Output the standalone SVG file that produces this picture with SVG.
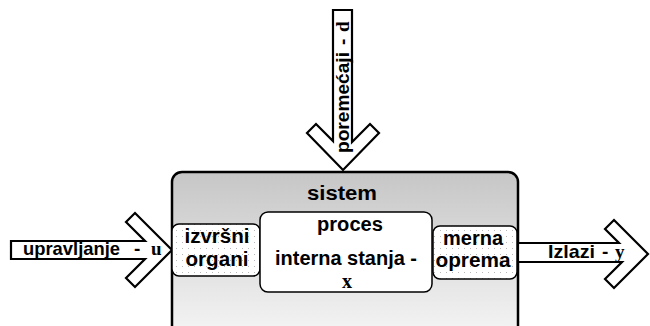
<svg xmlns="http://www.w3.org/2000/svg" width="650" height="326" viewBox="0 0 650 326">
<defs>
<linearGradient id="gSys" x1="0" y1="172" x2="0" y2="326" gradientUnits="userSpaceOnUse">
<stop offset="0" stop-color="#c6c6c6"/>
<stop offset="1" stop-color="#f2f2f2"/>
</linearGradient>
<pattern id="dots" x="0" y="0" width="6" height="6" patternUnits="userSpaceOnUse">
<rect width="6" height="6" fill="#ffffff"/>
<rect x="2" y="2" width="1" height="1" fill="#b8b8b8"/>
</pattern>
</defs>
<style>
.sans{font-family:"Liberation Sans",Arial,sans-serif;font-weight:bold;fill:#000}
.serif{font-family:"Liberation Serif","Times New Roman",serif;font-weight:bold;fill:#000}
.arrow{fill:#fff;stroke:#000;stroke-width:2.2;stroke-linejoin:miter}
.inner{stroke:#000;stroke-width:1.5}
</style>

<g id="node-sistem">
<rect x="172" y="172" width="346" height="170" rx="10" ry="10" fill="url(#gSys)" stroke="#000" stroke-width="2.5"/>
<text class="sans" x="342" y="200" font-size="20" text-anchor="middle" textLength="70" lengthAdjust="spacingAndGlyphs">sistem</text>
</g>

<g id="connectors">
<g id="arrow-upravljanje">
<polygon class="arrow" points="11,241 145,241 126,222 135,213 172,250 135,287 126,278 145,259 11,259"/>
<text class="sans" x="23" y="255" font-size="19" textLength="97" lengthAdjust="spacingAndGlyphs">upravljanje</text>
<text class="sans" x="134" y="255" font-size="19">-</text>
<text class="serif" x="151" y="255" font-size="19">u</text>
</g>
<g id="arrow-izlazi">
<polygon class="arrow" points="518,243 619,243 605,229 614,220 648,254 614,288 605,279 622,262 518,262"/>
<text class="sans" x="548" y="258" font-size="19" textLength="47" lengthAdjust="spacingAndGlyphs">Izlazi</text>
<text class="sans" x="602" y="258" font-size="19">-</text>
<text class="serif" x="615" y="258" font-size="19">y</text>
</g>
<g id="arrow-poremecaji">
<polygon class="arrow" points="333,10 352,10 352,142 370,124 379,133 343,170 307,133 316,124 333,141"/>
<g transform="translate(349,153) rotate(-90)">
<text class="sans" x="0" y="0" font-size="19" textLength="101" lengthAdjust="spacingAndGlyphs">poremećaji</text>
<text class="sans" x="108" y="0" font-size="19">-</text>
<text class="serif" x="121" y="0" font-size="19">d</text>
</g>
</g>
</g>

<g id="node-izvrsni">
<rect class="inner" x="172" y="224" width="88" height="52" rx="7" ry="7" fill="url(#dots)"/>
<text class="sans" x="217" y="243" font-size="20" text-anchor="middle" textLength="65" lengthAdjust="spacingAndGlyphs">izvršni</text>
<text class="sans" x="217" y="266" font-size="20" text-anchor="middle" textLength="63" lengthAdjust="spacingAndGlyphs">organi</text>
</g>

<g id="node-proces">
<rect class="inner" x="260" y="212" width="172" height="80" rx="8" ry="8" fill="#fff"/>
<text class="sans" x="350" y="231" font-size="20" text-anchor="middle" textLength="66" lengthAdjust="spacingAndGlyphs">proces</text>
<text class="sans" x="346" y="265" font-size="20" text-anchor="middle" textLength="142" lengthAdjust="spacingAndGlyphs">interna stanja -</text>
<text class="serif" x="347" y="288" font-size="20" text-anchor="middle">x</text>
</g>

<g id="node-merna">
<rect class="inner" x="433" y="226" width="84" height="53" rx="7" ry="7" fill="url(#dots)"/>
<text class="sans" x="473" y="245" font-size="20" text-anchor="middle" textLength="60" lengthAdjust="spacingAndGlyphs">merna</text>
<text class="sans" x="473" y="267" font-size="20" text-anchor="middle" textLength="75" lengthAdjust="spacingAndGlyphs">oprema</text>
</g>
</svg>
